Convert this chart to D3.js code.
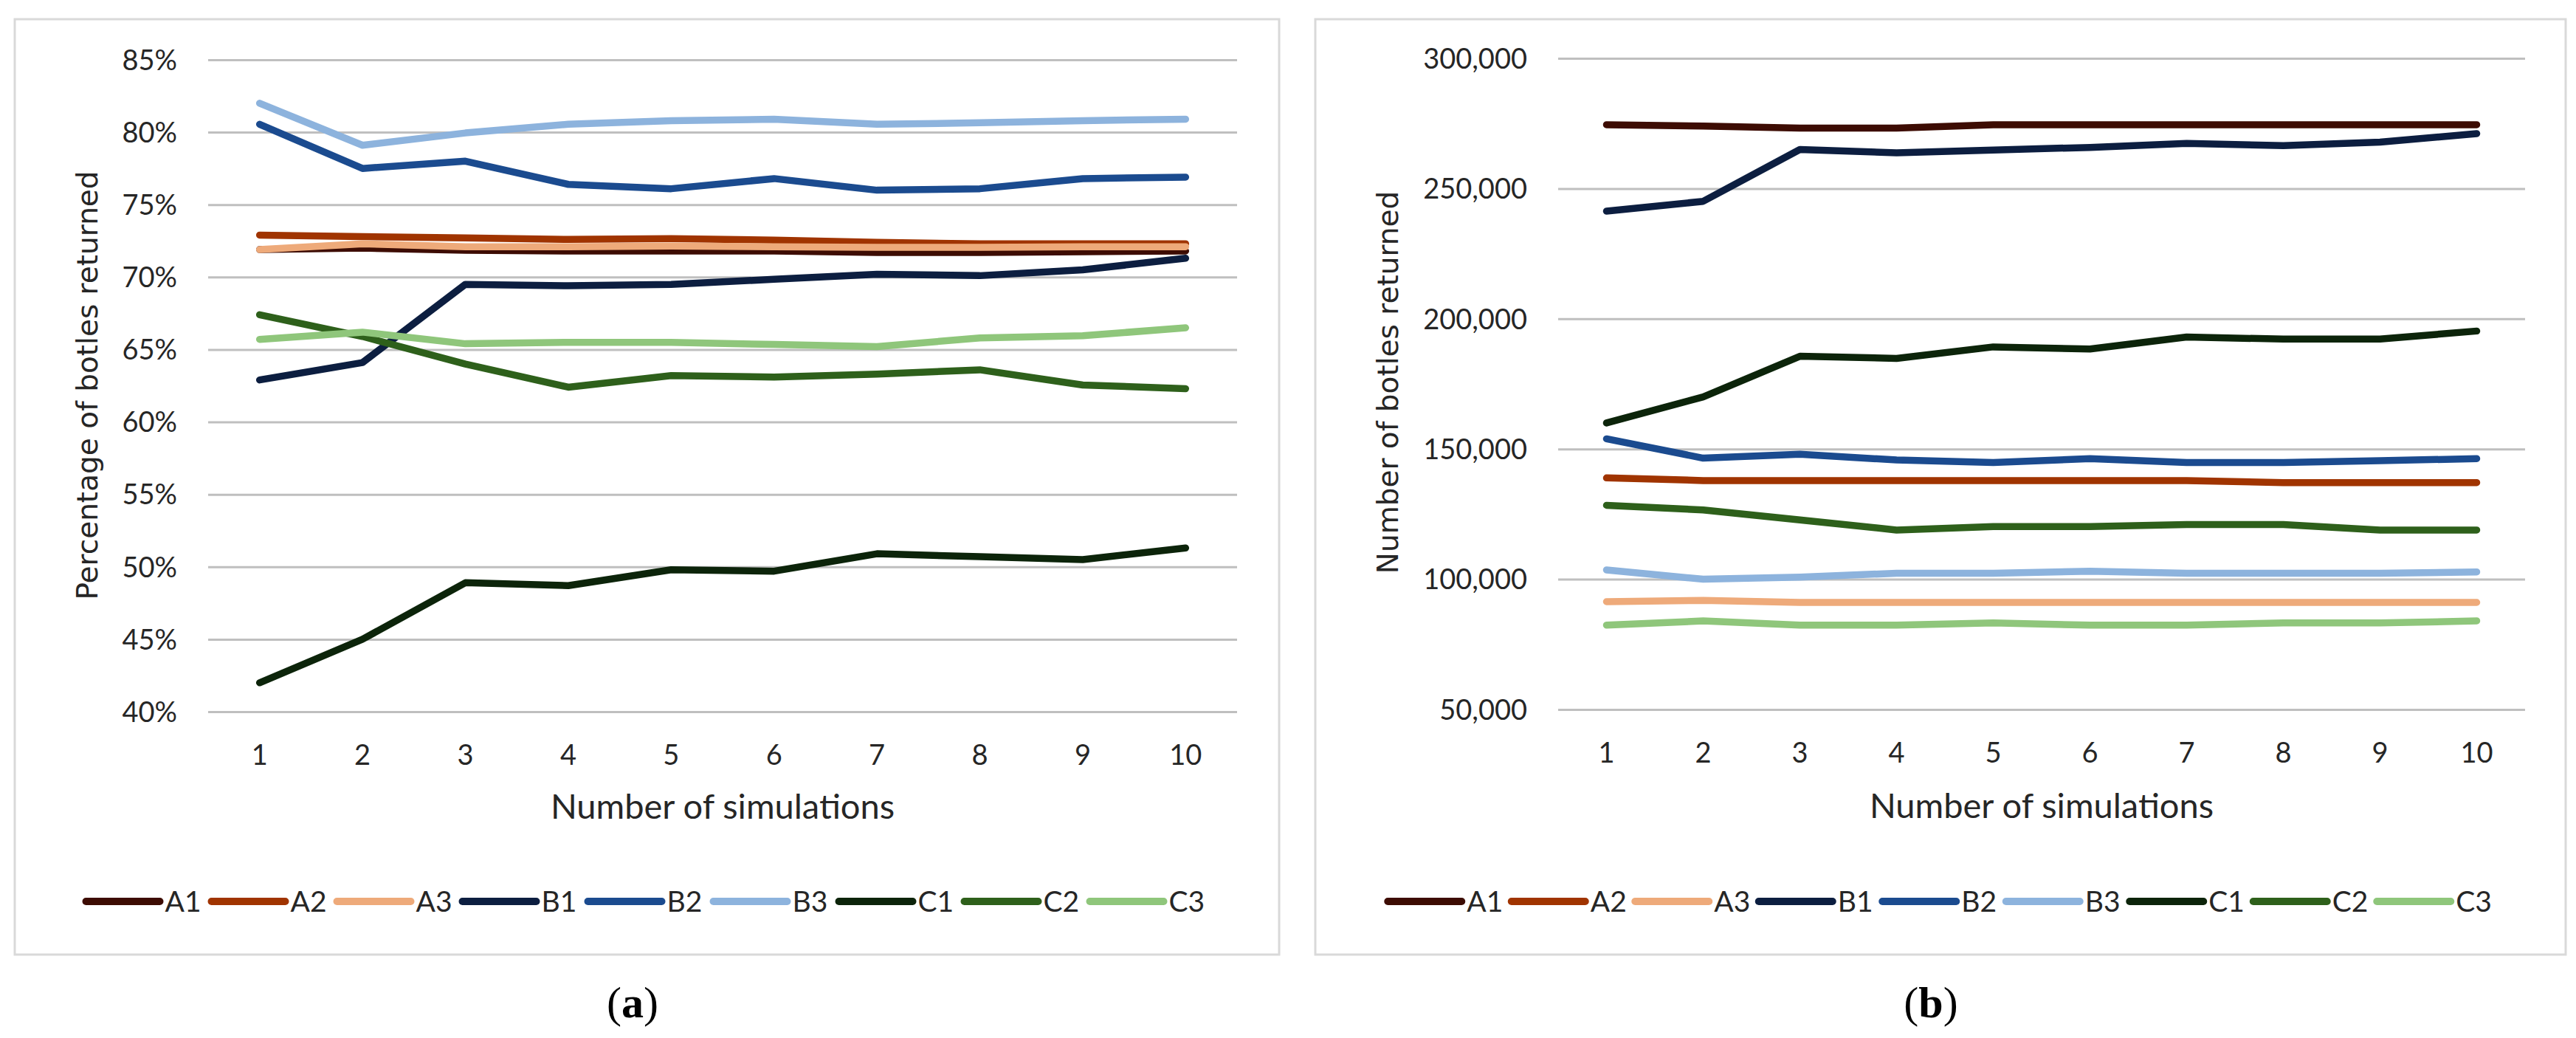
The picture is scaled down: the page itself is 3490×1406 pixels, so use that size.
<!DOCTYPE html>
<html>
<head>
<meta charset="utf-8">
<script src="https://cdn.jsdelivr.net/npm/d3@7"></script>
<style>
  html, body { margin: 0; padding: 0; background: #ffffff; }
  svg { display: block; }
</style>
</head>
<body>
<svg id="chart" width="3490" height="1406"></svg>
<script>
// ---------------- DATA ----------------
const simulations = [1, 2, 3, 4, 5, 6, 7, 8, 9, 10];
const seriesNames = ["A1", "A2", "A3", "B1", "B2", "B3", "C1", "C2", "C3"];
const seriesColors = ["#3d0c03", "#a03400", "#eeaa7a", "#0c1e40", "#1b4b8f", "#8db3dd", "#0c240a", "#2e601b", "#8fc67b"];

// (a) Percentage of bottles returned (%)
const pctA1 = [71.9, 72.0, 71.85, 71.8, 71.8, 71.8, 71.7, 71.7, 71.75, 71.8];
const pctA2 = [72.9, 72.8, 72.7, 72.6, 72.65, 72.55, 72.4, 72.3, 72.3, 72.3];
const pctA3 = [71.9, 72.3, 72.1, 72.1, 72.15, 72.1, 72.05, 72.05, 72.1, 72.1];
const pctB1 = [62.9, 64.1, 69.5, 69.4, 69.5, 69.85, 70.2, 70.1, 70.5, 71.3];
const pctB2 = [80.55, 77.5, 78.0, 76.4, 76.1, 76.8, 76.0, 76.1, 76.8, 76.9];
const pctB3 = [82.0, 79.1, 79.95, 80.55, 80.8, 80.9, 80.55, 80.65, 80.8, 80.9];
const pctC1 = [42.0, 45.0, 48.9, 48.7, 49.8, 49.7, 50.9, 50.7, 50.5, 51.3];
const pctC2 = [67.4, 65.9, 64.0, 62.4, 63.2, 63.1, 63.3, 63.6, 62.55, 62.3];
const pctC3 = [65.7, 66.2, 65.4, 65.5, 65.5, 65.35, 65.2, 65.8, 65.95, 66.5];
const pctTicks = [40, 45, 50, 55, 60, 65, 70, 75, 80, 85];

// (b) Number of bottles returned
const cntA1 = [274500, 274000, 273200, 273200, 274500, 274500, 274500, 274500, 274500, 274500];
const cntA2 = [138900, 137900, 137900, 137900, 137900, 137900, 137900, 137100, 137100, 137100];
const cntA3 = [91400, 91900, 91100, 91100, 91100, 91100, 91100, 91100, 91100, 91100];
const cntB1 = [241300, 245100, 265000, 263700, 264800, 265800, 267300, 266500, 267800, 271100];
const cntB2 = [153900, 146500, 148000, 145800, 144800, 146300, 144800, 144800, 145500, 146300];
const cntB3 = [103600, 100000, 100800, 102300, 102300, 103100, 102300, 102300, 102300, 102800];
const cntC1 = [160000, 170000, 185600, 184800, 189200, 188400, 193000, 192200, 192200, 195300];
const cntC2 = [128400, 126600, 122800, 118900, 120200, 120200, 121000, 121000, 118900, 118900];
const cntC3 = [82400, 84000, 82400, 82400, 83200, 82400, 82400, 83200, 83200, 84000];
const cntTicks = [50000, 100000, 150000, 200000, 250000, 300000];

const pctSeries = [pctA1, pctA2, pctA3, pctB1, pctB2, pctB3, pctC1, pctC2, pctC3];
const cntSeries = [cntA1, cntA2, cntA3, cntB1, cntB2, cntB3, cntC1, cntC2, cntC3];

// ---------------- LAYOUT ----------------
const svg = d3.select("#chart");
const tickFont = "Lato, 'Open Sans', sans-serif";
const textColor = "#262626";

const panels = [
  {
    box: {x: 20, y: 26, w: 1713, h: 1267},
    plot: {x0: 282, x1: 1676, y0: 81, y1: 964},
    domain: [40, 85], ticks: pctTicks, fmt: d => d + "%",
    series: pctSeries,
    yTitle: "Percentage of botles returned", yTitleX: 132, yTitleY: 522,
    xTitle: "Number of simulations", xTitleY: 1109,
    legendY: 1221, legendStep: 170,
    caption: "a", captionX: 857
  },
  {
    box: {x: 1782, y: 26, w: 1694, h: 1267},
    plot: {x0: 2111, x1: 3421, y0: 79, y1: 961},
    domain: [50000, 300000], ticks: cntTicks, fmt: d3.format(","),
    series: cntSeries,
    yTitle: "Number of botles returned", yTitleX: 1894, yTitleY: 518,
    xTitle: "Number of simulations", xTitleY: 1108,
    legendY: 1221, legendStep: 167.5,
    caption: "b", captionX: 2616
  }
];

panels.forEach(p => {
  const g = svg.append("g");

  // chart area border
  g.append("rect")
    .attr("x", p.box.x).attr("y", p.box.y)
    .attr("width", p.box.w).attr("height", p.box.h)
    .attr("fill", "#ffffff").attr("stroke", "#d9d9d9").attr("stroke-width", 3);

  const x = d3.scaleBand().domain(simulations).range([p.plot.x0, p.plot.x1]).padding(0);
  const y = d3.scaleLinear().domain(p.domain).range([p.plot.y1, p.plot.y0]);
  const cx = d => x(d) + x.bandwidth() / 2;

  // y axis with gridlines
  const yAxis = d3.axisLeft(y).tickValues(p.ticks).tickFormat(p.fmt)
    .tickSize(-(p.plot.x1 - p.plot.x0)).tickPadding(42);
  const yg = g.append("g").attr("transform", `translate(${p.plot.x0},0)`).call(yAxis);
  yg.select(".domain").remove();
  yg.selectAll(".tick line").attr("stroke", "#bfbfbf").attr("stroke-width", 3);
  yg.selectAll(".tick text")
    .attr("font-family", tickFont).attr("font-size", 38).attr("fill", textColor)
    .attr("dy", "0.35em");

  // x axis
  const xAxis = d3.axisBottom(x).tickSize(0).tickPadding(0);
  const xg = g.append("g").attr("transform", `translate(0,${p.plot.y1})`).call(xAxis);
  xg.select(".domain").remove();
  xg.selectAll(".tick text")
    .attr("font-family", tickFont).attr("font-size", 38).attr("fill", textColor)
    .attr("dy", 0).attr("y", 72);

  // series lines
  const line = d3.line().x((d, i) => cx(simulations[i])).y(d => y(d));
  p.series.forEach((vals, si) => {
    g.append("path")
      .datum(vals)
      .attr("d", line)
      .attr("fill", "none")
      .attr("stroke", seriesColors[si])
      .attr("stroke-width", 9.5)
      .attr("stroke-linejoin", "round")
      .attr("stroke-linecap", "round");
  });

  // axis titles
  g.append("text")
    .attr("x", (p.plot.x0 + p.plot.x1) / 2).attr("y", p.xTitleY)
    .attr("text-anchor", "middle")
    .attr("font-family", tickFont).attr("font-size", 47).attr("fill", textColor)
    .text(p.xTitle);

  g.append("text")
    .attr("transform", `translate(${p.yTitleX},${p.yTitleY}) rotate(-90)`)
    .attr("text-anchor", "middle")
    .attr("font-family", "'DejaVu Sans', Verdana, sans-serif").attr("font-size", 39).attr("fill", textColor)
    .text(p.yTitle);

  // legend
  const legendW = p.legendStep * seriesNames.length;
  const lx0 = p.box.x + p.box.w / 2 - legendW / 2;
  const lg = g.append("g");
  seriesNames.forEach((name, i) => {
    const ix = lx0 + i * p.legendStep;
    lg.append("line")
      .attr("x1", ix + 5).attr("x2", ix + 105)
      .attr("y1", p.legendY).attr("y2", p.legendY)
      .attr("stroke", seriesColors[i]).attr("stroke-width", 10)
      .attr("stroke-linecap", "round");
    lg.append("text")
      .attr("x", ix + 112).attr("y", p.legendY + 14)
      .attr("font-family", tickFont).attr("font-size", 39).attr("fill", textColor)
      .text(name);
  });

  // caption
  const cap = g.append("text")
    .attr("x", p.captionX).attr("y", 1378)
    .attr("text-anchor", "middle")
    .attr("font-family", "'Liberation Serif', 'Times New Roman', serif")
    .attr("font-size", 60).attr("fill", "#000000");
  cap.append("tspan").text("(");
  cap.append("tspan").attr("font-weight", "bold").text(p.caption);
  cap.append("tspan").text(")");
});
</script>
</body>
</html>
